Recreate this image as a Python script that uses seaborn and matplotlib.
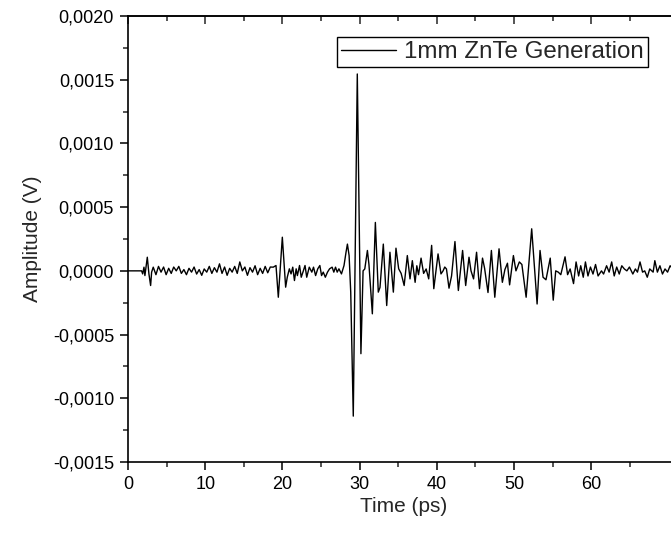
import matplotlib
matplotlib.use("Agg")
import matplotlib.pyplot as plt
import seaborn as sns
import numpy as np
import pandas as pd
from matplotlib.ticker import FixedLocator, MultipleLocator, FuncFormatter

# ---- data (time in ps, amplitude in units of 1e-4 V) ----
time_lead = [0.0, 1.76, 1.90, 2.07, 2.19, 2.50, 2.71, 2.93, 3.06, 3.27]
amp_lead = [0.0, 0.0, -0.24, 0.29, -0.37, 1.07, -0.24, -1.15, -0.1, 0.29]

time_noise = [3.62, 3.95, 4.28, 4.61, 4.94, 5.27, 5.60, 5.92, 6.25, 6.58,
              6.91, 7.24, 7.57, 7.90, 8.23, 8.56, 8.89, 9.22, 9.55, 9.87,
              10.20, 10.53, 10.86, 11.19, 11.52, 11.85, 12.18, 12.51, 12.84, 13.17,
              13.49, 13.82, 14.15, 14.48, 14.81, 15.14, 15.47, 15.80, 16.13, 16.46,
              16.79, 17.12, 17.44, 17.77, 18.10, 18.43, 18.82]
amp_noise = [-0.3, 0.35, -0.1, 0.3, -0.3, 0.2, -0.2, 0.3, 0.0, 0.35,
             -0.2, 0.1, -0.3, 0.2, -0.1, 0.3, -0.25, 0.1, -0.35, 0.15,
             -0.1, 0.35, -0.2, 0.25, -0.1, 0.55, -0.2, 0.3, -0.35, 0.2,
             -0.1, 0.35, -0.2, 0.7, 0.0, 0.3, -0.35, 0.25, -0.1, 0.4,
             -0.3, 0.2, -0.2, 0.35, -0.15, 0.3, 0.29]

time_echo1 = [19.17, 19.47, 19.99, 20.42, 20.63, 20.90, 21.12, 21.34, 21.56, 21.78,
              21.94, 22.22, 22.44, 22.66, 22.93, 23.15, 23.48, 23.81, 24.03, 24.30,
              24.58, 24.85, 25.07, 25.29, 25.56, 25.84, 26.11, 26.44, 26.66, 26.88,
              27.10, 27.32, 27.65, 27.98]
amp_echo1 = [0.42, -2.07, 2.64, -1.28, -0.5, 0.16, -0.24, 0.29, -0.76, 0.16,
             -0.37, 0.42, -0.5, -0.1, 0.42, -0.5, 0.29, -0.1, 0.29, -0.37,
             0.16, 0.42, -0.37, -0.1, -0.5, -0.1, 0.16, 0.29, -0.1, 0.29,
             -0.1, 0.16, -0.24, 0.42]

time_main = [28.24, 28.42, 28.64, 28.85, 29.18, 29.70, 30.17, 30.45, 30.67, 31.01,
             31.21, 31.65, 32.04, 32.42, 32.64, 33.07, 33.51, 33.93, 34.37, 34.71,
             35.06, 35.38, 35.77, 36.18, 36.53, 36.83, 37.19, 37.41, 37.63, 37.96,
             38.29, 38.62, 38.95, 39.33, 39.61, 40.16, 40.54, 40.81, 41.03, 41.25,
             41.58, 41.91, 42.35, 42.79, 43.34, 43.74, 44.17, 44.43, 44.76, 45.15,
             45.53, 45.92, 46.19, 46.63, 47.07, 47.51, 48.06, 48.49, 48.82, 49.15,
             49.43, 49.92, 50.25, 50.69, 51.02]
amp_main = [1.46, 2.1, 1.2, -1.67, -11.4, 15.45, -6.5, 0.0, 0.15, 1.6,
            0.5, -3.37, 3.8, -1.67, -1.3, 2.1, -2.72, 1.46, -1.67, 1.78,
            0.16, -0.2, -1.15, 1.2, -0.63, 0.8, -0.9, 0.4, -0.3, 1.0,
            -0.2, 0.15, -0.63, 2.0, -1.4, 1.33, -0.24, 0.0, 0.3, 0.15,
            -1.36, -0.4, 2.3, -1.54, 1.6, -1.15, 1.07, 0.0, -0.63, 1.46,
            -1.4, 1.0, 0.2, -1.7, 1.6, -2.07, 1.73, -0.9, 0.1, 0.6,
            -1.1, 1.2, 0.0, 0.7, 0.5]

time_tail = [51.57, 52.29, 52.99, 53.37, 53.76, 54.14, 54.69, 55.08, 55.40, 55.73,
             56.06, 56.61, 56.94, 57.27, 57.71, 58.04, 58.37, 58.64, 58.97, 59.25,
             59.58, 59.90, 60.23, 60.56, 60.89, 61.33, 61.60, 61.99, 62.32, 62.65,
             62.98, 63.30, 63.63, 63.96, 64.29, 64.62, 64.95, 65.39, 65.72, 65.99,
             66.32, 66.65, 66.93, 67.26, 67.58, 68.02, 68.24, 68.57, 68.90, 69.23,
             69.56, 69.89, 70.22, 70.65]
amp_tail = [-2.07, 3.3, -2.6, 1.6, -0.5, -0.7, 1.0, -2.3, 0.0, -0.1,
            -0.3, 1.1, -0.3, 0.15, -1.0, 0.7, -0.4, 0.4, -0.5, 0.7,
            -0.4, 0.3, -0.25, 0.5, -0.4, 0.0, -0.25, 0.4, -0.1, 0.7,
            -0.4, 0.3, -0.25, 0.4, 0.15, 0.0, 0.3, -0.25, 0.15, -0.1,
            0.7, -0.1, 0.0, -0.5, 0.15, -0.1, 0.8, -0.1, 0.4, -0.25,
            0.15, -0.1, 0.4, 0.1]

x_major_ticks = [0, 10, 20, 30, 40, 50, 60]
x_minor_ticks = [5, 15, 25, 35, 45, 55, 65]

series_label = "1mm ZnTe Generation"
x_label = "Time (ps)"
y_label = "Amplitude (V)"

time_ps = time_lead + time_noise + time_echo1 + time_main + time_tail
amp_e4 = amp_lead + amp_noise + amp_echo1 + amp_main + amp_tail
assert len(time_ps) == len(amp_e4)

df = pd.DataFrame({"t": time_ps, "v": np.array(amp_e4) * 1e-4})

# ---- style ----
sns.set_style("ticks")
plt.rcParams['font.family'] = ['Liberation Sans', 'DejaVu Sans']

W, H = 671, 533
fig = plt.figure(figsize=(W / 100, H / 100), dpi=100)
ax = fig.add_axes([128 / W, 71 / H, 552 / W, 446 / H])

sns.lineplot(data=df, x="t", y="v", ax=ax, color="black", lw=1.0,
             sort=False, estimator=None, label=series_label)

ax.set_xlim(0, 71.5)
ax.set_ylim(-0.0015, 0.0020)

ax.xaxis.set_major_locator(FixedLocator(x_major_ticks))
ax.xaxis.set_minor_locator(FixedLocator(x_minor_ticks))
ax.yaxis.set_major_locator(MultipleLocator(0.0005))
ax.yaxis.set_minor_locator(MultipleLocator(0.00025))
ax.yaxis.set_major_formatter(FuncFormatter(
    lambda v, p: f"{v:.4f}".replace(".", ",").replace("-0,0000", "0,0000")))
ax.xaxis.set_major_formatter(FuncFormatter(lambda v, p: f"{v:.0f}"))

for s in ax.spines.values():
    s.set_linewidth(1.2)
    s.set_color("black")

ax.tick_params(which="major", direction="out", length=6, width=1.1, labelsize=13,
               colors="black", pad=4)
ax.tick_params(which="minor", direction="out", length=3.5, width=1.1)

top = ax.secondary_xaxis("top")
top.xaxis.set_major_locator(FixedLocator(x_major_ticks))
top.xaxis.set_minor_locator(FixedLocator(x_minor_ticks))
top.tick_params(which="major", direction="in", length=6, width=1.1, labeltop=False)
top.tick_params(which="minor", direction="in", length=3.5, width=1.1)
top.spines["top"].set_linewidth(1.2)

ax.set_xlabel(x_label, fontsize=15, labelpad=3)
ax.set_ylabel(y_label, fontsize=15, labelpad=8)

leg = ax.legend(loc="upper left", bbox_to_anchor=(0.379, 0.952), frameon=True,
                fancybox=False, edgecolor="black", framealpha=1, fontsize=17.4,
                handlelength=2.3, handletextpad=0.33, borderpad=0.15,
                borderaxespad=0)
leg.get_frame().set_linewidth(1.0)

fig.savefig("out.png", dpi=100)
